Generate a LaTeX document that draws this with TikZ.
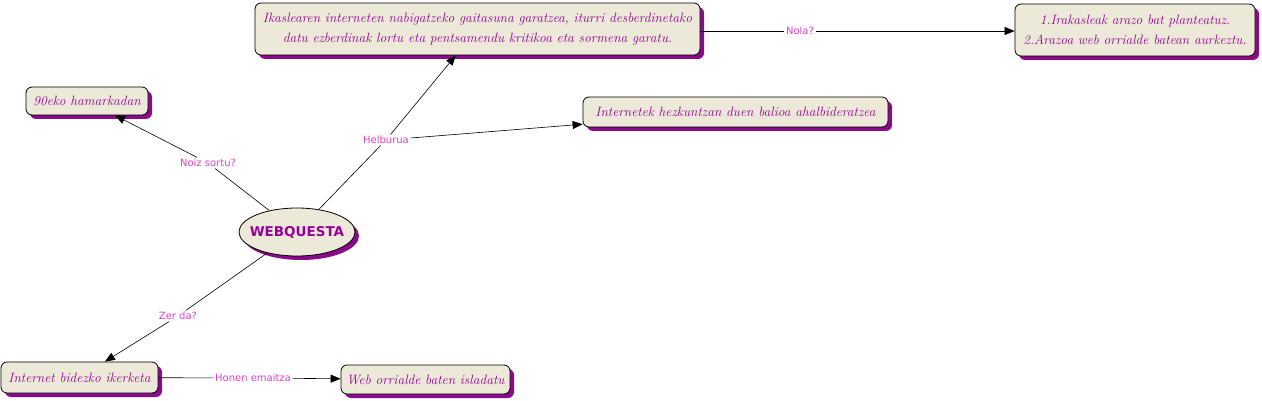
\documentclass[tikz,border=0pt]{standalone}
\usepackage{fontspec}
\newfontfamily\labelfont{DejaVu Sans}
\usetikzlibrary{shapes.geometric,shadows,arrows.meta}
\definecolor{boxfill}{HTML}{ECE9D8}
\definecolor{shadowc}{HTML}{8A0A8A}
\definecolor{txtc}{HTML}{990099}
\definecolor{lblc}{HTML}{E040C8}
\tikzset{
  concept/.style={draw=black, line width=0.8pt, fill=boxfill, rounded corners=6pt,
    text=txtc, align=center, inner sep=0pt,
    font=\fontsize{13.5}{20}\selectfont\itshape,
    drop shadow={shadow xshift=4pt, shadow yshift=-4pt, fill=shadowc, opacity=1}},
  mainc/.style={draw=black, line width=0.8pt, fill=boxfill, ellipse, inner xsep=-7pt, inner ysep=0pt,
    text=txtc, font=\labelfont\bfseries\fontsize{13.5}{16}\selectfont,
    drop shadow={shadow xshift=4pt, shadow yshift=-4pt, fill=shadowc, opacity=1}},
  lbl/.style={fill=white, text=lblc, inner sep=1.5pt, font=\labelfont\fontsize{10}{12}\selectfont},
  link/.style={draw=black, line width=0.6pt},
  arr/.style={link, -{Triangle[length=10pt,width=8pt]}}
}
\begin{document}
\begin{tikzpicture}[x=1pt,y=-1pt]
\useasboundingbox (0,0) rectangle (1262,401);
\node[concept, minimum width=445pt, minimum height=52pt] (top) at (477.5,29)
  {Ikaslearen interneten nabigatzeko gaitasuna garatzea, iturri desberdinetako\\
   datu ezberdinak lortu eta pentsamendu kritikoa eta sormena garatu.};
\node[concept, minimum width=240pt, minimum height=52pt] (nola) at (1135,30)
  {1.Irakasleak arazo bat planteatuz.\\ 2.Arazoa web orrialde batean aurkeztu.};
\node[concept, minimum width=122pt, minimum height=28pt] (ninety) at (87,101) {90eko hamarkadan};
\node[concept, minimum width=305pt, minimum height=30pt] (inet) at (735.5,112)
  {Internetek hezkuntzan duen balioa ahalbideratzea};
\node[mainc, minimum width=116pt, minimum height=48pt] (wq) at (297,232) {WEBQUESTA};
\node[concept, minimum width=157pt, minimum height=31pt] (bid) at (79.5,377.5) {Internet bidezko ikerketa};
\node[concept, minimum width=169pt, minimum height=29pt] (web) at (425.5,379.5) {Web orrialde baten isladatu};

\node[lbl] (noiz) at (208,163) {Noiz sortu?};
\node[lbl] (helb) at (386,140) {Helburua};
\node[lbl] (zer) at (178,316) {Zer da?};
\node[lbl] (honen) at (253,378) {Honen emaitza};
\node[lbl] (nolal) at (800,31) {Nola?};

\draw[link] (wq) -- (noiz);
\draw[arr] (noiz) -- (ninety);
\draw[link] (wq) -- (helb);
\draw[arr] (helb) -- (top);
\draw[arr] (helb) -- (inet);
\draw[link] (wq) -- (zer);
\draw[arr] (zer) -- (bid);
\draw[link] (bid) -- (honen);
\draw[arr] (honen) -- (web);
\draw[link] (top.east |- nolal) -- (nolal);
\draw[arr] (nolal) -- (nola.west |- nolal);
\end{tikzpicture}
\end{document}
